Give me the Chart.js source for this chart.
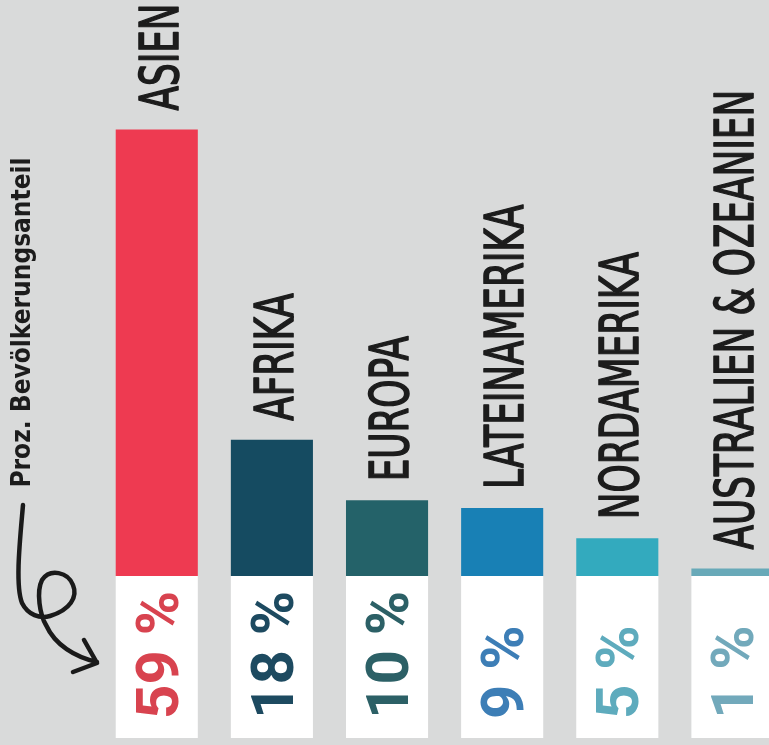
<!DOCTYPE html>
<html lang="de">
<head>
  <meta charset="UTF-8" />
  <title>Bevölkerungsanteil nach Kontinent</title>
  <script src="https://cdn.jsdelivr.net/npm/chart.js"></script>
  <style>
    html, body {
      margin: 0;
      padding: 0;
      overflow: hidden;
      background-color: #d9dada;
    }
    #popChart {
      display: block;
      width: 800px;
      height: 745px;
    }
  </style>
</head>
<body>
  <canvas id="popChart" width="800" height="745"></canvas>

  <script>
    // Data
    const regions = ["ASIEN", "AFRIKA", "EUROPA", "LATEINAMERIKA", "NORDAMERIKA", "AUSTRALIEN & OZEANIEN"];
    const shares = [59, 18, 10, 9, 5, 1];
    const axisTitle = "Proz. Bevölkerungsanteil";

    // Colours
    const barColors = ["#ee3a51", "#154b61", "#246269", "#1880b5", "#33aabe", "#68a9b8"];
    const pctColors = ["#d8434f", "#1d4a60", "#2c6066", "#3d7eb6", "#5eabbd", "#72a9bb"];

    const BOX_BOTTOM = 738;

    // Hand-drawn bits: labels above bars, white value boxes, the arrow
    const decorations = {
      id: "decorations",
      afterDatasetsDraw(chart) {
        const ctx = chart.ctx;
        const bars = chart.getDatasetMeta(0).data;
        const base = chart.scales.y.getPixelForValue(0);

        bars.forEach((bar, i) => {
          const w = bar.width;

          // white box under the bar
          ctx.save();
          ctx.fillStyle = "#ffffff";
          ctx.fillRect(bar.x - w / 2, base, w, BOX_BOTTOM - base);

          // percentage, rotated
          ctx.translate(bar.x + 21, BOX_BOTTOM - 19);
          ctx.rotate(-Math.PI / 2);
          ctx.font = "bold 60px Roboto, 'DejaVu Sans', sans-serif";
          ctx.fillStyle = pctColors[i];
          ctx.textAlign = "left";
          ctx.textBaseline = "alphabetic";
          ctx.fillText(shares[i] + " %", 0, 0);
          ctx.restore();

          // region name above the bar
          ctx.save();
          ctx.translate(bar.x + 21, bar.y - 19);
          ctx.rotate(-Math.PI / 2);
          ctx.scale(0.75, 1);
          ctx.font = "53px 'DejaVu Sans Condensed', 'DejaVu Sans', sans-serif";
          ctx.fillStyle = "#1c1c1c";
          ctx.strokeStyle = "#1c1c1c";
          ctx.lineWidth = 1.6;
          ctx.lineJoin = "round";
          ctx.textAlign = "left";
          ctx.textBaseline = "alphabetic";
          ctx.fillText(regions[i], 0, 0);
          ctx.strokeText(regions[i], 0, 0);
          ctx.restore();
        });

        // curly arrow pointing at the values
        ctx.save();
        ctx.strokeStyle = "#1a1a1a";
        ctx.lineWidth = 4.5;
        ctx.lineCap = "round";
        ctx.lineJoin = "round";
        ctx.beginPath();
        ctx.moveTo(23, 505);
        ctx.bezierCurveTo(20, 540, 15, 585, 22, 603);
        ctx.bezierCurveTo(28, 615, 40, 619, 50, 616);
        ctx.bezierCurveTo(70, 610, 78, 597, 73, 585);
        ctx.bezierCurveTo(68, 572, 50, 568, 42, 580);
        ctx.bezierCurveTo(36, 592, 40, 615, 46, 625);
        ctx.bezierCurveTo(55, 645, 75, 657, 97, 662);
        ctx.moveTo(84, 640);
        ctx.lineTo(97, 663);
        ctx.lineTo(73, 672);
        ctx.stroke();
        ctx.restore();
      }
    };

    new Chart(document.getElementById("popChart"), {
      type: "bar",
      data: {
        labels: regions,
        datasets: [{
          data: shares,
          backgroundColor: barColors,
          borderWidth: 0,
          categoryPercentage: 1,
          barPercentage: 0.713
        }]
      },
      options: {
        responsive: false,
        animation: false,
        layout: {
          padding: { left: 0, right: 10, top: 69, bottom: 169 }
        },
        scales: {
          x: { display: false },
          y: {
            min: 0,
            max: 67,
            ticks: { display: false },
            grid: { display: false, drawTicks: false },
            border: { display: false },
            title: {
              display: true,
              text: axisTitle,
              color: "#1c1c1c",
              font: { family: "'Liberation Sans Narrow', 'DejaVu Sans Condensed', sans-serif", size: 26, weight: "bold" },
              padding: { top: 8, bottom: 60 }
            }
          }
        },
        plugins: {
          legend: { display: false },
          tooltip: { enabled: false }
        }
      },
      plugins: [decorations]
    });
  </script>
</body>
</html>
